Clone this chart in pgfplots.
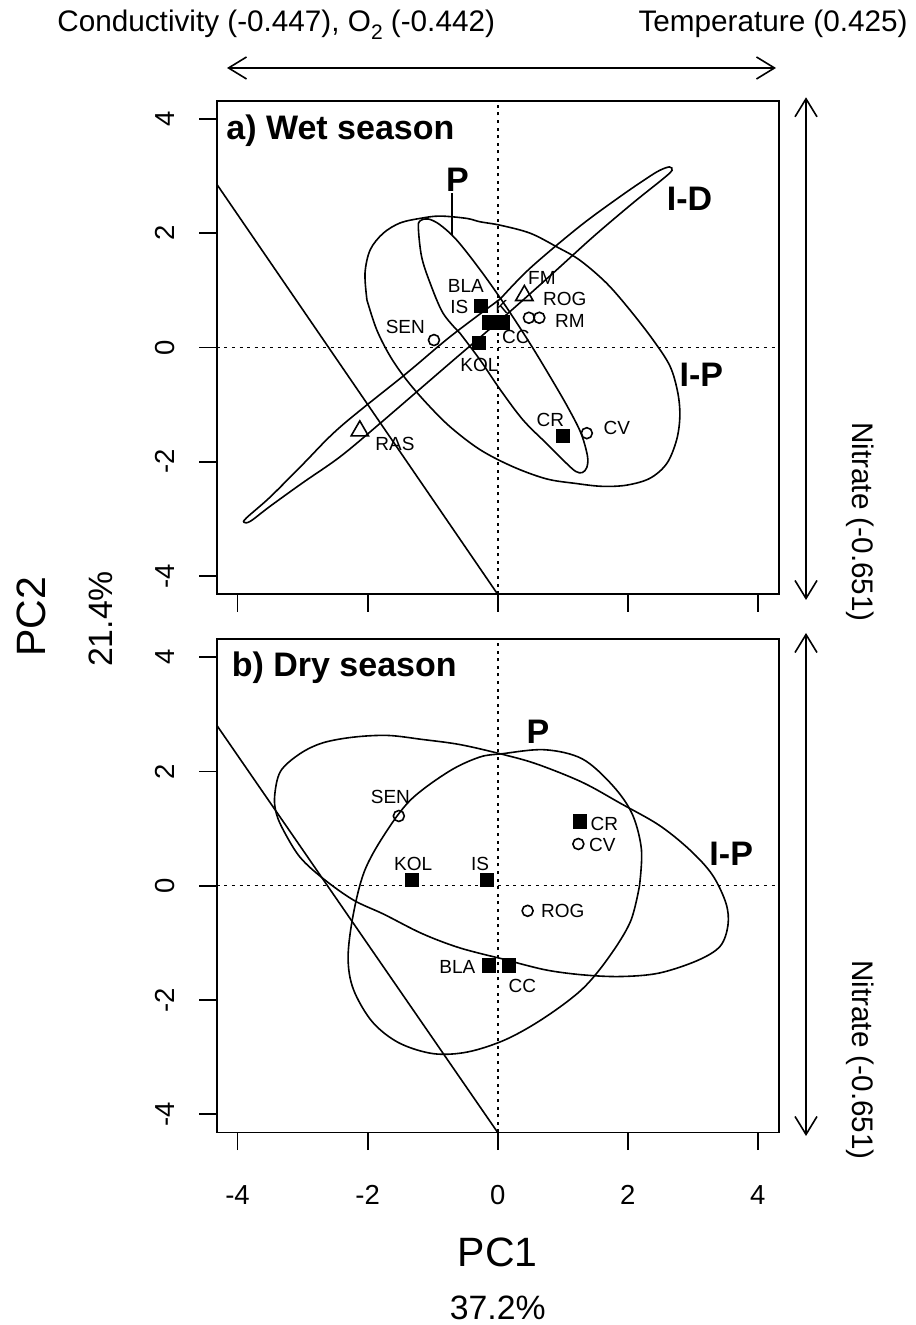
\documentclass[border=0pt]{standalone}
\usepackage{fontspec}
\setmainfont{Liberation Sans}
\usepackage{pgfplots}
\pgfplotsset{compat=1.18}
\usetikzlibrary{arrows.meta}
\newcommand{\tlfont}{\fontsize{13.75pt}{16pt}\selectfont}
\newcommand{\lbfont}{\fontsize{9.5pt}{11pt}\selectfont}
\newcommand{\bgfont}{\bfseries\fontsize{17pt}{20pt}\selectfont}
\newcommand{\mdfont}{\fontsize{14.85pt}{17pt}\selectfont}
\tikzset{
  lbl/.style={font=\lbfont, inner sep=0pt, anchor=center},
  big/.style={font=\bgfont, inner sep=0pt, anchor=center},
}
\begin{document}
\begin{tikzpicture}
\useasboundingbox (0,0) rectangle (457.5pt,662.5pt);
\pgfplotsset{
  pcastyle/.style={
    scale only axis, width=281pt, height=246.8pt,
    xmin=-4.32, xmax=4.32, ymin=-4.32, ymax=4.32,
    xtick={-4,-2,0,2,4}, ytick={-4,-2,0,2,4},
    xticklabels={}, yticklabels={},
    tick align=outside, xtick pos=left, ytick pos=left,
    major tick length=8.85pt,
    tick style={black, line width=0.9pt},
    axis line style={line width=0.9pt},
    clip mode=individual,
  },
  curve/.style={black, line width=0.8pt, smooth, tension=0.55, no markers},
  dots/.style={black, line width=0.8pt, dash pattern=on 1.5pt off 2.3pt, no markers},
  sq/.style={only marks, mark=square*, mark size=3.33pt, mark options={fill=black, draw=black, line width=0.2pt}},
  ci/.style={only marks, mark=o, mark size=2.75pt, mark options={draw=black, line width=0.8pt}},
  tr/.style={only marks, mark=triangle, mark size=5pt, mark options={draw=black, line width=0.8pt}},
}
% ---------------- panel a ----------------
\begin{axis}[pcastyle, at={(108.35pt,365.35pt)}, anchor=south west]
\addplot[dots] coordinates {(0,-4.32) (0,4.32)};
\addplot[dots] coordinates {(-4.32,0) (4.32,0)};
\addplot[black, line width=0.8pt, no markers] coordinates {(-4.32,2.86) (0,-4.32)};
% I-D
\addplot[curve] coordinates {(0.04,0.85) (0.50,1.39) (1.26,2.12) (1.88,2.64) (2.29,2.96) (2.49,3.10) (2.64,3.16) (2.68,3.10) (2.55,2.96) (2.08,2.53) (1.47,1.94) (0.85,1.30) (0.14,0.58) (-0.73,-0.27) (-1.81,-1.33) (-2.42,-1.91) (-3.0,-2.37) (-3.5,-2.78) (-3.80,-3.04) (-3.90,-3.06) (-3.86,-2.98) (-3.5,-2.62) (-3.0,-2.05) (-2.42,-1.39) (-1.40,-0.45) (-0.73,0.19) (0.04,0.85)};
% I-P
\addplot[curve] coordinates {(-2.01,0.83) (-1.86,0.31) (-1.65,-0.16) (-1.40,-0.57) (-1.09,-0.98) (-0.73,-1.39) (-0.27,-1.79) (0.24,-2.09) (0.75,-2.30) (1.20,-2.38) (1.60,-2.43) (1.98,-2.41) (2.34,-2.29) (2.60,-2.03) (2.75,-1.62) (2.80,-1.21) (2.77,-0.80) (2.65,-0.33) (2.39,0.13) (2.03,0.66) (1.67,1.13) (1.26,1.53) (0.91,1.76) (0.50,2.00) (0.04,2.14) (-0.27,2.20) (-0.48,2.26) (-0.89,2.30) (-1.19,2.26) (-1.50,2.18) (-1.76,2.00) (-1.96,1.71) (-2.04,1.30) (-2.01,0.83)};
% P
\addplot[curve] coordinates {(-0.58,0.25) (-0.27,-0.22) (0.04,-0.74) (0.39,-1.27) (0.75,-1.68) (1.05,-2.02) (1.20,-2.17) (1.30,-2.19) (1.37,-2.10) (1.38,-1.90) (1.28,-1.50) (1.08,-1.05) (0.80,-0.50) (0.48,0.10) (0.09,0.78) (-0.27,1.36) (-0.63,1.88) (-0.89,2.15) (-1.07,2.25) (-1.19,2.22) (-1.22,2.10) (-1.17,1.59) (-1.04,1.13) (-0.84,0.60) (-0.58,0.25)};
\draw[line width=0.8pt] (axis cs:-0.70,2.70) -- (axis cs:-0.70,1.97);
% points
\addplot[sq] coordinates {(-0.26,0.73) (-0.14,0.44) (0.07,0.44) (-0.29,0.08) (1.00,-1.55)};
\addplot[ci] coordinates {(-0.98,0.13) (0.48,0.52) (0.64,0.52) (1.37,-1.50)};
\addplot[tr] coordinates {(0.41,0.91) (-2.12,-1.46)};
% labels
\node[lbl] at (axis cs:-0.49,1.08) {BLA};
\node[lbl] at (axis cs:-0.59,0.71) {IS};
\node[lbl] at (axis cs:0.06,0.71) {K};
\node[lbl] at (axis cs:-1.42,0.36) {SEN};
\node[lbl] at (axis cs:0.28,0.18) {CC};
\node[lbl] at (axis cs:-0.28,-0.30) {KOL};
\node[lbl] at (axis cs:0.68,1.21) {FM};
\node[lbl] at (axis cs:1.03,0.85) {ROG};
\node[lbl] at (axis cs:1.11,0.47) {RM};
\node[lbl] at (axis cs:-1.58,-1.68) {RAS};
\node[lbl] at (axis cs:0.81,-1.26) {CR};
\node[lbl] at (axis cs:1.83,-1.41) {CV};
\node[big] at (axis cs:-0.62,2.94) {P};
\node[big] at (axis cs:2.95,2.61) {I-D};
\node[big] at (axis cs:3.13,-0.48) {I-P};
\node[font=\bgfont, inner sep=0pt, anchor=base west, xshift=4.65pt, yshift=-19.65pt] at (rel axis cs:0,1) {a) Wet season};
\pgfplotsinvokeforeach{-4,-2,0,2,4}{
  \node[font=\tlfont, xshift=-25.85pt, rotate=90, inner sep=0pt, anchor=center] at (axis cs:-4.32,#1) {#1};
}
\end{axis}
% ---------------- panel b ----------------
\begin{axis}[pcastyle, at={(108.35pt,96.25pt)}, anchor=south west]
\addplot[dots] coordinates {(0,-4.32) (0,4.32)};
\addplot[dots] coordinates {(-4.32,0) (4.32,0)};
\addplot[black, line width=0.8pt, no markers] coordinates {(-4.32,2.81) (0,-4.32)};
% P
\addplot[curve] coordinates {(2.18,0.0) (2.04,-0.63) (1.71,-1.25) (1.30,-1.81) (0.72,-2.31) (0.13,-2.69) (-0.46,-2.91) (-0.99,-2.94) (-1.52,-2.75) (-1.93,-2.38) (-2.22,-1.81) (-2.30,-1.25) (-2.22,-0.50) (-2.05,0.25) (-1.75,0.88) (-1.34,1.50) (-0.75,2.00) (-0.28,2.25) (0.07,2.31) (0.72,2.38) (1.30,2.22) (1.77,1.75) (2.07,1.25) (2.21,0.63) (2.18,0.0)};
% I-P
\addplot[curve] coordinates {(0.07,-1.28) (0.72,-1.47) (1.30,-1.56) (1.89,-1.59) (2.48,-1.53) (3.07,-1.31) (3.42,-1.06) (3.54,-0.69) (3.51,-0.31) (3.30,0.19) (2.95,0.63) (2.48,1.06) (1.89,1.44) (1.30,1.81) (0.60,2.13) (0.07,2.30) (-0.58,2.47) (-1.16,2.56) (-1.69,2.63) (-2.22,2.60) (-2.69,2.50) (-3.04,2.31) (-3.34,2.00) (-3.43,1.56) (-3.40,1.25) (-3.28,0.94) (-3.04,0.50) (-2.69,0.13) (-2.22,-0.25) (-1.75,-0.50) (-1.16,-0.84) (-0.58,-1.09) (0.07,-1.28)};
% points
\addplot[sq] coordinates {(1.26,1.13) (-1.32,0.11) (-0.17,0.11) (-0.14,-1.39) (0.17,-1.39)};
\addplot[ci] coordinates {(-1.52,1.22) (1.24,0.73) (0.46,-0.44)};
% labels
\node[lbl] at (axis cs:-1.65,1.55) {SEN};
\node[lbl] at (axis cs:1.64,1.08) {CR};
\node[lbl] at (axis cs:1.61,0.71) {CV};
\node[lbl] at (axis cs:-1.30,0.38) {KOL};
\node[lbl] at (axis cs:-0.27,0.38) {IS};
\node[lbl] at (axis cs:1.00,-0.44) {ROG};
\node[lbl] at (axis cs:-0.62,-1.42) {BLA};
\node[lbl] at (axis cs:0.38,-1.76) {CC};
\node[big] at (axis cs:0.62,2.70) {P};
\node[big] at (axis cs:3.59,0.55) {I-P};
\node[font=\bgfont, inner sep=0pt, anchor=base west, xshift=7.35pt, yshift=-18.9pt] at (rel axis cs:0,1) {b) Dry season};
\pgfplotsinvokeforeach{-4,-2,0,2,4}{
  \node[font=\tlfont, xshift=-25.85pt, rotate=90, inner sep=0pt, anchor=center] at (axis cs:-4.32,#1) {#1};
  \node[font=\tlfont, inner sep=0pt, anchor=center, yshift=-31.3pt] at (axis cs:#1,-4.32) {#1};
}
\end{axis}
% ---------------- outer annotations ----------------
\node[font=\mdfont, anchor=base west, inner sep=0pt] at (28.5pt,646.5pt) {Conductivity (-0.447), O\raisebox{-0.45ex}{\fontsize{10.5pt}{12pt}\selectfont 2} (-0.442)};
\node[font=\mdfont, anchor=base east, inner sep=0pt] at (454pt,646.5pt) {Temperature (0.425)};
\draw[line width=0.8pt, {Straight Barb[length=9pt,width=11pt]}-{Straight Barb[length=9pt,width=11pt]}] (113.5pt,628.5pt) -- (388pt,628.5pt);
\draw[line width=0.8pt, {Straight Barb[length=9pt,width=11pt]}-{Straight Barb[length=9pt,width=11pt]}] (403pt,613.85pt) -- (403pt,362.5pt);
\draw[line width=0.8pt, {Straight Barb[length=9pt,width=11pt]}-{Straight Barb[length=9pt,width=11pt]}] (403pt,346pt) -- (403pt,94.5pt);
\node[font=\mdfont, rotate=-90, inner sep=0pt] at (430pt,401.5pt) {Nitrate (-0.651)};
\node[font=\mdfont, rotate=-90, inner sep=0pt] at (430pt,132.5pt) {Nitrate (-0.651)};
\node[font=\fontsize{20.5pt}{24pt}\selectfont, rotate=90, inner sep=0pt] at (15.5pt,354pt) {PC2};
\node[font=\fontsize{16.9pt}{20pt}\selectfont, rotate=90, inner sep=0pt] at (50.5pt,353pt) {21.4\%};
\node[font=\fontsize{20.5pt}{24pt}\selectfont, inner sep=0pt] at (248.85pt,36.5pt) {PC1};
\node[font=\fontsize{16.9pt}{20pt}\selectfont, inner sep=0pt] at (248.85pt,8.5pt) {37.2\%};
\end{tikzpicture}
\end{document}
